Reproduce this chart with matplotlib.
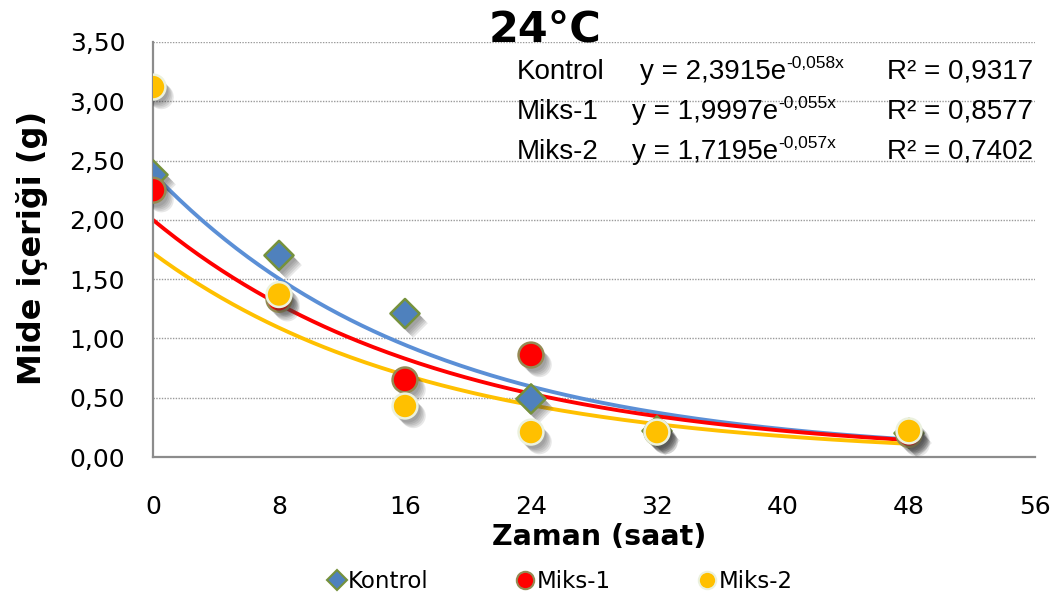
import numpy as np
import matplotlib.pyplot as plt
import matplotlib.patheffects as pe
from matplotlib.lines import Line2D
from matplotlib.ticker import FuncFormatter

# veriler
saat = [0, 8, 16, 24, 32, 48]
kontrol = [2.38, 1.70, 1.21, 0.49, 0.22, 0.20]
miks1 = [2.25, 1.33, 0.65, 0.86, 0.21, 0.19]
miks2 = [3.12, 1.37, 0.43, 0.21, 0.21, 0.22]

# ustel trend denklemleri y = a*exp(b*x)
trend_a = [2.3915, 1.9997, 1.7195]
trend_b = [-0.058, -0.055, -0.057]
r2 = ["0,9317", "0,8577", "0,7402"]
seri_adlari = ["Kontrol", "Miks-1", "Miks-2"]

plt.rcParams["font.family"] = ["DejaVu Sans"]
W, H = 1052, 603

fig = plt.figure(figsize=(W / 100, H / 100), dpi=100)
ax = fig.add_axes([153 / W, 1 - 457 / H, (1035 - 153) / W, (457 - 42) / H])

# yumusak golge icin birkac katman
golge = [pe.SimplePatchShadow(offset=(d, -d - 1), shadow_rgbFace="#404040", alpha=0.12)
         for d in (2, 3, 4, 5, 6)] + [pe.Normal()]

trend_renk = ["#5b8fd6", "#ff0000", "#ffc000"]
xx = np.linspace(0, 48, 200)
for a, b, c in zip(trend_a, trend_b, trend_renk):
    ax.plot(xx, a * np.exp(b * xx), color=c, lw=2.8, zorder=2, solid_capstyle="butt")

ax.scatter(saat, kontrol, marker="D", s=220, color="#4f81bd", edgecolors="#76923c",
           linewidths=1.8, zorder=3, path_effects=golge)
ax.scatter(saat, miks1, marker="o", s=320, color="#ff0000", edgecolors="#948a54",
           linewidths=1.8, zorder=4, path_effects=golge)
ax.scatter(saat, miks2, marker="o", s=320, color="#ffc000", edgecolors="#ebf1de",
           linewidths=1.8, zorder=5, path_effects=golge)

ax.set_xlim(0, 56)
ax.set_ylim(0, 3.5)
ax.set_xticks(range(0, 57, 8))
ax.set_yticks(np.arange(0, 3.51, 0.5))
ax.yaxis.set_major_formatter(FuncFormatter(lambda v, p: f"{v:.2f}".replace(".", ",")))
ax.tick_params(axis="y", length=0, labelsize=18, pad=20)
ax.tick_params(axis="x", length=0, labelsize=18, pad=27)
ax.grid(axis="y", color="#9a9a9a", linestyle=(0, (1, 1)), lw=1)
for s in ["top", "right"]:
    ax.spines[s].set_visible(False)
for s in ["left", "bottom"]:
    ax.spines[s].set_color("#8c8c8c")
    ax.spines[s].set_linewidth(1.6)
ax.set_axisbelow(True)

fig.text(599 / W, 1 - 537 / H, "Zaman (saat)", fontsize=20.5, fontweight="bold",
         ha="center", va="center")
fig.text(32 / W, 1 - 248 / H, "Mide içeriği (g)", fontsize=23, fontweight="bold",
         ha="center", va="center", rotation=90)
fig.text(545 / W, 1 - 29 / H, "24°C", fontsize=31, fontweight="bold",
         ha="center", va="center")

# denklem etiketleri
fig.canvas.draw()
rend = fig.canvas.get_renderer()
for i, (ad, a, b, r) in enumerate(zip(seri_adlari, trend_a, trend_b, r2)):
    y = 1 - (72 + i * 40) / H
    fig.text(517 / W, y, ad, fontsize=20, va="center", family="Liberation Sans")
    x0 = 640 if i == 0 else 632
    t = fig.text(x0 / W, y, f"y = {a:.4f}e".replace(".", ","), fontsize=20,
                 va="center", family="Liberation Sans")
    bb = t.get_window_extent(rend)
    us = f"{b:.3f}x".replace(".", ",")
    fig.text(bb.x1 / W, y + 8 / H, us, fontsize=12.5, va="center",
             family="Liberation Sans")
    fig.text(887 / W, y, f"R² = {r}", fontsize=20, va="center",
             family="Liberation Sans")

tutamaclar = [
    Line2D([], [], ls="none", marker="D", ms=10, mfc="#4f81bd", mec="#76923c", mew=1.5),
    Line2D([], [], ls="none", marker="o", ms=12.5, mfc="#ff0000", mec="#948a54", mew=1.5),
    Line2D([], [], ls="none", marker="o", ms=12.5, mfc="#ffc000", mec="#ebf1de", mew=1.5),
]
fig.legend(tutamaclar, seri_adlari, loc="center", bbox_to_anchor=(560 / W, 1 - 582 / H),
           ncol=3, frameon=False, fontsize=16.5, handlelength=0.8, handletextpad=0.1,
           columnspacing=3.8)

fig.savefig("out.png", dpi=100)
